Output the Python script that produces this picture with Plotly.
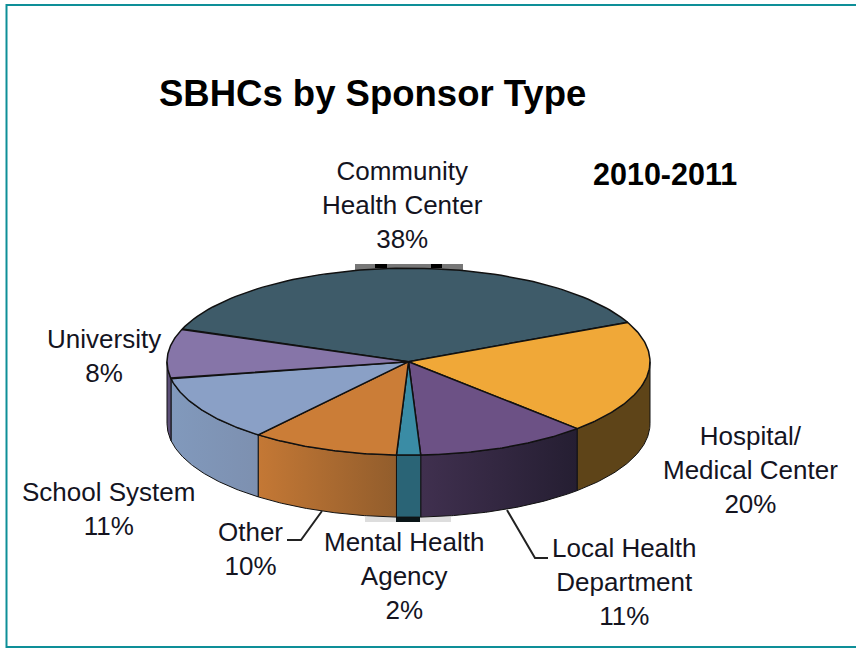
import numpy as np
import plotly.graph_objects as go

# ---- data ----
categories = ["Community Health Center", "Hospital/Medical Center", "Local Health Department",
              "Mental Health Agency", "Other", "School System", "University"]
printed_pct = [38, 20, 11, 2, 10, 11, 8]
drawn_share = [37.4, 19.6, 11.5, 1.6, 9.9, 11.4, 8.5]
top_colors = ["#3E5B69", "#F0A838", "#6C5185", "#3A8CA5", "#CB7D37", "#8AA0C6", "#8675A8"]
side_left = ["#3E5B69", "#5E4418", "#40304F", "#2A6476", "#C47835", "#8199BC", "#5C4F78"]
side_right = ["#3E5B69", "#5E4418", "#251E32", "#2A6476", "#925D2C", "#7D90B0", "#5C4F78"]
label_lines = [["Community", "Health Center"], ["Hospital/", "Medical Center"], ["Local Health", "Department"],
               ["Mental Health", "Agency"], ["Other"], ["School System"], ["University"]]
label_pos = [(402, 154), (750, 419), (624, 531), (404, 525), (250, 515), (108, 475), (104, 322)]

# ---- geometry of the tilted pie, in pixels ----
W, H = 856, 648
CX, CY, RX, RY, DEPTH = 408.5, 361.7, 241.5, 93.5, 62
START_DEG = 159.5
EDGE = "#111111"
LABEL_FONT = "Liberation Sans, Arial"

fig = go.Figure()


def arc(t0, t1, n=80):
    t = np.radians(np.linspace(t0, t1, n))
    return CX + RX * np.cos(t), CY - RY * np.sin(t)


edges = START_DEG - np.concatenate([[0], np.cumsum(drawn_share)]) * 3.6

# shadow slivers behind the pie
for x0, x1, y0, y1, c in [(355, 463, 264, 270, "#777777"), (375, 387, 264, 268, "#000000"), (431, 442, 264, 268, "#000000"),
                          (365, 451, 517, 522, "#DDDDDD"), (396, 420, 517, 522, "#0A1518")]:
    fig.add_shape(type="rect", x0=x0, x1=x1, y0=y0, y1=y1, fillcolor=c, line_width=0, layer="below")

# side walls (only the part of each slice on the front half)
for i in range(len(categories)):
    a0, a1 = edges[i], edges[i + 1]
    hi = min(a0, 0)
    lo = max(a1, -180)
    if hi <= lo:
        continue
    x, y = arc(hi, lo)
    xs = np.concatenate([x, x[::-1], x[:1]])
    ys = np.concatenate([y, (y + DEPTH)[::-1], y[:1]])
    fig.add_trace(go.Scatter(x=xs, y=ys, mode="lines", fill="toself", hoverinfo="skip", showlegend=False,
                             line=dict(color=EDGE, width=1),
                             fillgradient=dict(type="horizontal",
                                               colorscale=[[0, side_left[i]], [1, side_right[i]]])))

# top faces
for i in range(len(categories)):
    x, y = arc(edges[i], edges[i + 1])
    fig.add_trace(go.Scatter(x=np.concatenate([[CX], x, [CX]]), y=np.concatenate([[CY], y, [CY]]),
                             mode="lines", fill="toself", fillcolor=top_colors[i], hoverinfo="skip",
                             showlegend=False, line=dict(color=EDGE, width=1.5)))

# leader lines
for xs, ys in [([322, 301, 287], [511, 540, 540]), ([507, 535, 548], [510, 558, 558])]:
    fig.add_trace(go.Scatter(x=xs, y=ys, mode="lines", hoverinfo="skip", showlegend=False,
                             line=dict(color="#222222", width=2)))

# labels
for lines, pct, (lx, ly) in zip(label_lines, printed_pct, label_pos):
    fig.add_annotation(x=lx, y=ly, xref="x", yref="y", showarrow=False, yanchor="top", align="center",
                       text="<br>".join(lines + [f"{pct}%"]),
                       font=dict(family=LABEL_FONT, size=26, color="#14141f"))

fig.add_annotation(x=372, y=93, xref="x", yref="y", showarrow=False, text="<b>SBHCs by Sponsor Type</b>",
                   font=dict(family=LABEL_FONT, size=36.5, color="#000000"))
fig.add_annotation(x=665, y=174, xref="x", yref="y", showarrow=False, text="<b>2010-2011</b>",
                   font=dict(family=LABEL_FONT, size=30.5, color="#000000"))

# frame
fig.add_shape(type="rect", x0=6.5, x1=860, y0=5, y1=647, line=dict(color="#0E8F98", width=2), fillcolor="rgba(0,0,0,0)")

fig.update_layout(width=W, height=H, margin=dict(l=0, r=0, t=0, b=0), paper_bgcolor="white", plot_bgcolor="white",
                  showlegend=False,
                  xaxis=dict(range=[0, W], visible=False, fixedrange=True),
                  yaxis=dict(range=[H, 0], visible=False, fixedrange=True))
fig.write_html("out.html", config={"displayModeBar": False},
               post_script="document.body.style.margin='0';document.body.style.overflow='hidden';")
